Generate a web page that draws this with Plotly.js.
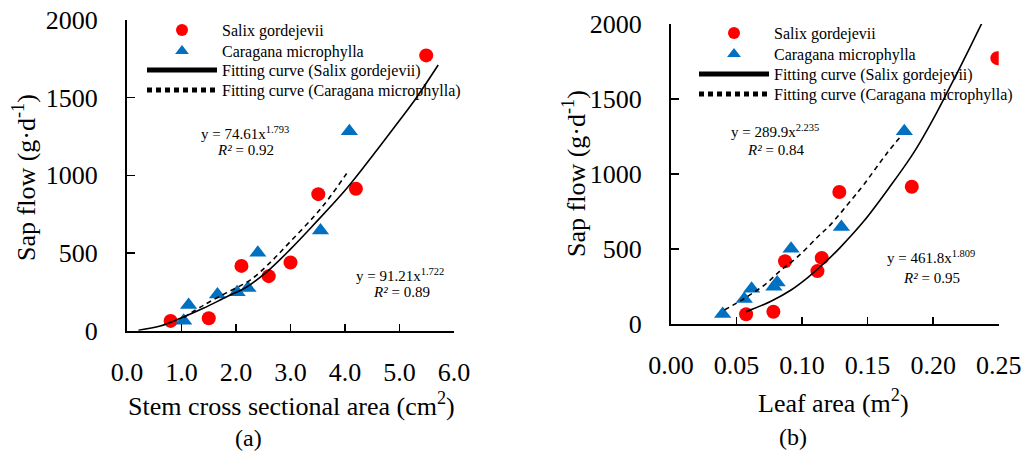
<!DOCTYPE html>
<html>
<head>
<meta charset="utf-8">
<script src="https://cdn.plot.ly/plotly-3.0.1.min.js"></script>
<style>html,body{margin:0;padding:0;background:#fff;}#chart{width:1021px;height:454px;}</style>
</head>
<body>
<div id="chart"></div>
<script>
// ---- Data ----
// Sap flow (g/d) of each sampled shrub
const salixSapFlow    = [63, 80, 417, 351, 439, 879, 914, 1772];
const caraganaSapFlow = [64, 165, 233, 247, 275, 501, 645, 1284];
// Panel (a): stem cross sectional area (cm2)
const salixStemArea    = [0.80, 1.50, 2.10, 2.60, 3.00, 3.51, 4.20, 5.49];
const caraganaStemArea = [1.04, 1.13, 1.66, 2.02, 2.22, 2.40, 3.55, 4.08];
// Panel (b): leaf area (m2)
const salixLeafArea    = [0.0573, 0.0781, 0.0870, 0.1117, 0.1150, 0.1284, 0.1837, 0.2490];
const caraganaLeafArea = [0.0394, 0.0559, 0.0615, 0.0785, 0.0810, 0.0916, 0.1300, 0.1780];
// Fitting curves, points
const fitSalixA_x    = [0.21, 0.61, 0.98, 1.40, 1.83, 2.20, 2.57, 3.00, 3.42, 4.03, 4.58, 4.95, 5.31, 5.71];
const fitSalixA_y    = [3, 30, 80, 144, 219, 282, 380, 525, 680, 915, 1160, 1330, 1500, 1710];
const fitCaraganaA_x = [1.04, 1.41, 1.83, 2.26, 2.63, 3.00, 3.43, 3.70, 4.03];
const fitCaraganaA_y = [85, 165, 245, 326, 440, 575, 735, 850, 1012];
const fitSalixB_x    = [0.0573, 0.0763, 0.0916, 0.1043, 0.1170, 0.1290, 0.1475, 0.1679, 0.1832, 0.1900, 0.2028, 0.2155, 0.2280, 0.2370];
const fitSalixB_y    = [80, 150, 225, 308, 405, 508, 688, 925, 1115, 1210, 1410, 1625, 1842, 2003];
const fitCaraganaB_x = [0.0407, 0.0560, 0.0712, 0.0840, 0.0967, 0.1120, 0.1214, 0.1380, 0.1468, 0.1646, 0.1761];
const fitCaraganaB_y = [91, 169, 258, 358, 447, 580, 658, 830, 925, 1136, 1259];
// Texts
const legendNames = ['Salix gordejevii', 'Caragana microphylla', 'Fitting curve (Salix gordejevii)', 'Fitting curve (Caragana microphylla)'];
const yTitle = 'Sap flow (g·d<sup>-1</sup>)';
const xTitleA = 'Stem cross sectional area (cm<sup>2</sup>)';
const xTitleB = 'Leaf area (m<sup>2</sup>)';

// ---- Styling ----
const FONT = '"Liberation Serif", "Times New Roman", serif';
const RED = '#FF0000', BLUE = '#0070C0';

function panelTraces(xs, xc, fx1, fy1, fx2, fy2, xa, ya, lgs) {
  return [
    {x: xs, y: salixSapFlow, mode: 'markers', name: legendNames[0], xaxis: xa, yaxis: ya, legend: lgs[0],
     marker: {color: RED, size: 14, symbol: 'circle'}},
    {x: xc, y: caraganaSapFlow, mode: 'markers', name: legendNames[1], xaxis: xa, yaxis: ya, legend: lgs[1],
     marker: {color: BLUE, size: 15, symbol: 'triangle-up'}},
    {x: fx1, y: fy1, mode: 'lines', name: legendNames[2], xaxis: xa, yaxis: ya, legend: lgs[2],
     line: {color: '#000', width: 1.6, shape: 'spline'}},
    {x: fx2, y: fy2, mode: 'lines', name: legendNames[3], xaxis: xa, yaxis: ya, legend: lgs[3],
     line: {color: '#000', width: 1.6, dash: '5px,4px', shape: 'spline'}}
  ];
}

const data = [].concat(
  panelTraces(salixStemArea, caraganaStemArea, fitSalixA_x, fitSalixA_y, fitCaraganaA_x, fitCaraganaA_y, 'x', 'y',
              ['legend', 'legend2', 'legend3', 'legend4']),
  panelTraces(salixLeafArea, caraganaLeafArea, fitSalixB_x, fitSalixB_y, fitCaraganaB_x, fitCaraganaB_y, 'x2', 'y2',
              ['legend5', 'legend6', 'legend7', 'legend8'])
);

const W = 1021, H = 454;
const px = v => v / W, py = v => 1 - v / H;

function xAx(domain, range, dtick, fmt, anchor) {
  return {domain, range, dtick, tick0: 0, tickformat: fmt, anchor,
    ticks: 'inside', ticklen: 7, tickwidth: 1.5, tickcolor: '#000',
    showline: true, linewidth: 2, linecolor: '#000', showgrid: false, zeroline: false,
    tickfont: {family: FONT, size: 26, color: '#000'}, ticklabelstandoff: 17,
    ticklabeloverflow: 'allow', automargin: false, fixedrange: true};
}
function yAx(domain, anchor) {
  return {domain, range: [0, 2000], dtick: 500, tick0: 0, anchor,
    ticks: 'inside', ticklen: 8, tickwidth: 1.5, tickcolor: '#000',
    showline: true, linewidth: 2, linecolor: '#000', showgrid: false, zeroline: false,
    tickfont: {family: FONT, size: 26, color: '#000'}, ticklabelstandoff: 22,
    ticklabeloverflow: 'allow', automargin: false, fixedrange: true};
}

function ann(text, x, y, size, extra) {
  return Object.assign({text, x: px(x), y: py(y), xref: 'paper', yref: 'paper',
    showarrow: false, xanchor: 'center', yanchor: 'middle',
    font: {family: FONT, size, color: '#000'}}, extra || {});
}

function lg(x, y) {
  return {
    x: px(x), y: py(y), xref: 'container', yref: 'container', xanchor: 'left', yanchor: 'middle',
    font: {family: FONT, size: 16, color: '#000'}, bgcolor: 'rgba(0,0,0,0)', borderwidth: 0,
    itemsizing: 'constant', itemwidth: 70, itemclick: false, itemdoubleclick: false
  };
}

const layout = {
  width: W, height: H, margin: {l: 0, r: 0, t: 0, b: 0, autoexpand: false},
  paper_bgcolor: '#fff', plot_bgcolor: '#fff',
  showlegend: true,
  font: {family: FONT, color: '#000'},
  xaxis:  xAx([px(127), px(454)], [0, 6], 1, '.1f', 'y'),
  yaxis:  yAx([1 - 330.7 / H, 1 - 20 / H], 'x'),
  xaxis2: xAx([px(671), px(998.7)], [0, 0.25], 0.05, '.2f', 'y2'),
  yaxis2: yAx([1 - 323.7 / H, 1 - 24 / H], 'x2'),
  legend:  lg(142, 30),
  legend2: lg(142, 51),
  legend3: lg(142, 70),
  legend4: lg(142, 90),
  legend5: lg(694, 33),
  legend6: lg(694, 54),
  legend7: lg(694, 74),
  legend8: lg(694, 94),
  annotations: [
    ann(yTitle, 25, 178, 26, {textangle: -90}),
    ann(yTitle, 574, 174, 26, {textangle: -90}),
    ann(xTitleA, 291, 404, 26),
    ann(xTitleB, 833, 401, 26),
    ann('(a)', 248, 438, 24),
    ann('(b)', 793, 437, 24),
    ann('y = 74.61x<sup>1.793</sup>', 245, 133, 15),
    ann('<i>R²</i> = 0.92', 245, 150, 15),
    ann('y = 91.21x<sup>1.722</sup>', 400, 275, 15),
    ann('<i>R²</i> = 0.89', 401, 292, 15),
    ann('y = 289.9x<sup>2.235</sup>', 775, 131, 15),
    ann('<i>R²</i> = 0.84', 775, 150, 15),
    ann('y = 461.8x<sup>1.809</sup>', 931, 257, 15),
    ann('<i>R²</i> = 0.95', 931, 278, 15)
  ]
};

Plotly.newPlot('chart', data, layout, {displayModeBar: false, staticPlot: true});
</script>
</body>
</html>
